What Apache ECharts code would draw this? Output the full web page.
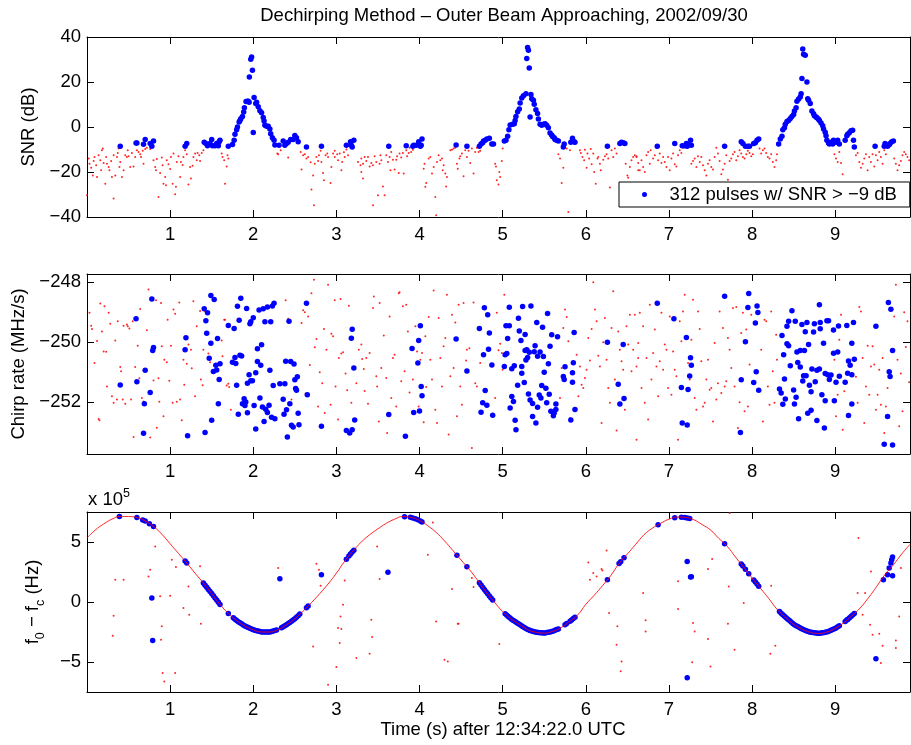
<!DOCTYPE html>
<html>
<head>
<meta charset="utf-8">
<title>Dechirping Method</title>
<script src="https://cdn.jsdelivr.net/npm/echarts@6.0.0/dist/echarts.min.js"></script>
<style>html,body{margin:0;padding:0;background:#fff;}</style>
</head>
<body>
<div id="main" style="width:911px;height:745px;"></div>
<script type="text/javascript">
// ---- data (time in s, SNR in dB, chirp in MHz/s, f0-fc in units of 1e5 Hz) ----
var xTicks = [1, 2, 3, 4, 5, 6, 7, 8, 9];
var snrTicks = [-40, -20, 0, 20, 40];
var chirpTicks = [-252, -250, -248];
var freqTicks = [-5, 0, 5];

var snrBlue = [
  [0.40,-8.6],[0.59,-7.1],[0.60,-7.1],[0.68,-7.7],[0.70,-5.6],[0.76,-7.3],[0.78,-8.6],[0.80,-6.2],
  [1.18,-8.6],[1.20,-7.3],[1.41,-6.8],[1.43,-7.3],[1.45,-8.3],[1.48,-7.3],[1.50,-5.6],[1.51,-8.3],
  [1.54,-8.3],[1.56,-7.3],[1.58,-8.3],[1.59,-6.6],[1.60,-5.9],[1.70,-8.6],[1.75,-7.8],[1.77,-5.9],
  [1.78,-3.2],[1.80,-1.2],[1.81,0.0],[1.83,2.2],[1.84,2.9],[1.85,3.7],[1.87,4.7],[1.885,6.7],
  [1.893,8.6],[1.913,11.3],[1.93,11.5],[1.94,11.5],[1.95,11.0],[1.953,22.2],[1.97,30.1],[1.98,31.1],
  [1.99,25.2],[2.00,-2.4],[2.01,13.1],[2.03,10.4],[2.04,11.0],[2.06,9.0],[2.08,7.2],[2.10,6.3],
  [2.12,4.2],[2.13,2.7],[2.14,0.8],[2.16,0.3],[2.18,0.3],[2.20,-0.9],[2.21,-3.0],[2.23,-4.8],
  [2.25,-5.9],[2.26,-8.0],[2.31,-8.1],[2.36,-6.2],[2.38,-8.1],[2.40,-7.3],[2.42,-6.8],[2.45,-5.6],
  [2.48,-5.6],[2.50,-3.8],[2.52,-4.8],[2.54,-6.5],[2.64,-8.9],[2.82,-8.6],[3.12,-8.1],[3.17,-6.6],
  [3.18,-8.1],[3.19,-8.9],[3.21,-5.9],
  [3.63,-8.6],[3.84,-8.3],[3.92,-8.6],[3.93,-8.1],[3.96,-8.1],[3.99,-6.6],[4.01,-8.6],[4.03,-5.3],
  [4.02,-8.1],[4.44,-8.0],[4.57,-8.6],[4.72,-8.6],[4.74,-7.6],[4.76,-7.0],[4.77,-6.2],[4.79,-5.9],
  [4.81,-5.3],[4.84,-5.0],[4.87,-7.6],[4.89,-7.6],[5.02,-6.2],[5.04,-5.9],[5.06,-4.1],[5.075,-1.2],
  [5.09,0.9],[5.12,1.2],[5.14,1.5],[5.15,2.9],[5.16,4.7],[5.18,6.8],[5.20,8.0],[5.21,10.7],
  [5.23,12.9],[5.25,13.9],[5.28,14.8],[5.29,30.4],[5.30,35.3],[5.31,34.1],[5.32,26.2],[5.33,4.4],
  [5.34,14.5],[5.35,12.6],[5.37,11.9],[5.38,10.1],[5.40,7.7],[5.42,6.0],[5.43,3.6],[5.45,1.2],
  [5.47,0.8],[5.49,1.2],[5.51,1.5],[5.53,0.8],[5.55,-0.3],[5.57,-2.7],[5.59,-3.6],[5.60,-4.2],
  [5.62,-4.8],[5.63,-5.6],[5.65,-5.9],[5.67,-6.2],[5.73,-8.9],[5.74,-7.6],[5.82,-6.8],[5.84,-5.0],
  [5.86,-6.5],[5.87,-6.8],[6.26,-8.6],[6.41,-7.3],[6.43,-6.8],[6.45,-7.0],[6.47,-7.3],
  [6.86,-8.6],[7.07,-7.3],[7.16,-8.3],[7.19,-8.3],[7.21,-7.3],[7.22,-8.6],[7.24,-7.9],[7.26,-5.9],
  [7.27,-8.1],[7.67,-8.6],[7.87,-6.6],[7.89,-7.3],[7.92,-8.6],[7.95,-8.6],[7.97,-8.6],[8.02,-7.3],
  [8.04,-7.0],[8.06,-5.9],[8.08,-5.3],[8.32,-7.6],[8.34,-5.3],[8.36,-4.1],[8.37,-1.2],[8.39,-0.3],
  [8.40,1.2],[8.42,2.4],[8.44,2.9],[8.46,3.8],[8.48,4.7],[8.50,5.6],[8.51,7.1],[8.53,8.6],
  [8.54,11.5],[8.56,12.4],[8.58,13.3],[8.59,14.8],[8.60,21.6],[8.61,34.7],[8.62,32.3],[8.64,31.9],
  [8.66,20.0],[8.67,12.6],[8.68,11.9],[8.70,10.4],[8.72,7.1],[8.74,5.9],[8.75,5.0],[8.77,4.4],
  [8.78,4.1],[8.80,3.5],[8.81,2.9],[8.83,1.8],[8.85,0.6],[8.86,-0.9],[8.88,-2.3],[8.89,-3.9],
  [8.90,-5.9],[8.92,-7.1],[8.93,-7.6],[8.95,-6.8],[8.97,-7.6],[8.98,-5.9],[9.01,-6.8],[9.03,-5.9],
  [9.05,-7.6],[9.12,-5.9],[9.14,-3.9],[9.15,-3.2],[9.17,-2.6],[9.19,-1.7],[9.21,-1.4],[9.22,-5.9],
  [9.23,-8.9],[9.48,-8.6],[9.59,-8.6],[9.60,-7.3],[9.63,-8.6],[9.65,-7.9],[9.66,-7.3],[9.68,-6.6],
  [9.70,-6.2]
];

var snrRed = [
  [0.00,-30.3],[0.02,-14.0],[0.03,-16.3],[0.05,-18.1],[0.07,-21.5],[0.08,-15.1],[0.09,-13.3],[0.11,-17.0],
  [0.12,-22.2],[0.14,-12.6],[0.16,-14.8],[0.17,-19.2],[0.18,-10.3],[0.19,-9.6],[0.20,-16.0],[0.22,-25.2],
  [0.23,-13.3],[0.24,-16.3],[0.26,-17.8],[0.27,-19.2],[0.29,-15.1],[0.30,-22.2],[0.32,-31.8],[0.32,-12.6],
  [0.34,-21.6],[0.36,-13.3],[0.37,-11.5],[0.38,-9.6],[0.39,-17.8],[0.40,-15.5],[0.42,-22.2],[0.44,-19.2],
  [0.46,-12.6],[0.48,-13.3],[0.49,-10.3],[0.50,-13.0],[0.52,-17.8],[0.54,-11.5],[0.56,-17.5],[0.58,-13.3],
  [0.60,-10.3],[0.62,-11.1],[0.64,-12.1],[0.65,-13.3],[0.67,-10.6],[0.68,-16.3],[0.70,-9.8],[0.72,-9.2],
  [0.76,-9.8],[0.80,-14.8],[0.82,-17.8],[0.83,-19.2],[0.84,-14.2],[0.86,-31.1],[0.88,-20.4],[0.90,-13.6],
  [0.91,-17.0],[0.92,-25.2],[0.94,-22.2],[0.95,-25.9],[0.96,-14.8],[0.98,-16.6],[1.00,-18.7],[1.01,-13.3],
  [1.03,-25.2],[1.04,-11.8],[1.06,-29.9],[1.07,-26.6],[1.08,-15.5],[1.10,-13.0],[1.12,-22.2],[1.13,-15.5],
  [1.15,-16.9],[1.16,-13.3],[1.18,-10.3],[1.20,-12.1],[1.22,-25.5],[1.24,-17.8],[1.25,-22.9],[1.27,-17.2],
  [1.28,-13.3],[1.30,-11.8],[1.32,-14.8],[1.33,-11.5],[1.35,-12.6],[1.36,-15.1],[1.38,-11.5],[1.40,-10.3],
  [1.62,-11.8],[1.63,-13.3],[1.65,-14.8],[1.66,-25.2],[1.68,-17.5],[1.69,-12.6],[1.70,-14.0],
  [2.29,-11.8],[2.30,-12.1],[2.33,-10.3],[2.42,-13.6],[2.57,-11.1],[2.58,-18.9],[2.60,-12.6],[2.62,-12.1],
  [2.64,-14.0],[2.66,-13.3],[2.69,-15.7],[2.70,-27.8],[2.72,-21.5],[2.73,-34.8],[2.74,-16.3],[2.76,-13.3],
  [2.78,-15.1],[2.79,-12.6],[2.81,-10.6],[2.82,-15.5],[2.84,-20.4],[2.85,-23.7],[2.87,-12.6],[2.89,-11.8],
  [2.90,-13.3],[2.93,-24.9],[2.94,-17.8],[2.96,-11.8],[2.98,-10.6],[2.98,-13.3],[3.01,-12.1],[3.02,-14.8],
  [3.04,-11.8],[3.06,-19.2],[3.07,-15.5],[3.09,-11.2],[3.10,-13.3],[3.12,-10.0],[3.14,-12.6],[3.26,-15.5],
  [3.29,-17.0],[3.30,-20.0],[3.32,-22.9],[3.34,-13.3],
  [3.30,-14.0],[3.32,-16.3],[3.36,-15.1],[3.38,-13.3],[3.40,-17.5],[3.42,-16.0],[3.44,-34.8],[3.44,-17.0],
  [3.46,-13.0],[3.48,-15.5],[3.50,-30.3],[3.52,-16.3],[3.53,-12.6],[3.54,-14.8],[3.56,-26.4],[3.58,-30.3],
  [3.60,-12.6],[3.62,-15.5],[3.64,-13.3],[3.65,-19.2],[3.66,-11.1],[3.68,-14.5],[3.70,-18.9],[3.72,-14.5],
  [3.73,-13.0],[3.75,-20.4],[3.76,-11.8],[3.78,-13.6],[3.80,-11.5],[3.81,-20.7],[3.84,-10.3],[3.85,-13.0],
  [3.87,-11.5],[3.88,-9.2],[3.90,-11.1],[3.92,-10.1],[4.05,-18.5],[4.06,-16.3],[4.07,-26.6],[4.08,-24.9],
  [4.11,-14.0],[4.13,-13.3],[4.15,-20.7],[4.17,-17.8],[4.19,-31.1],[4.20,-39.2],[4.21,-15.5],[4.23,-12.6],
  [4.25,-14.8],[4.27,-14.0],[4.28,-19.2],[4.29,-17.0],[4.31,-20.7],[4.32,-26.4],[4.33,-22.2],[4.37,-10.3],
  [4.39,-10.1],[4.41,-9.6],[4.43,-9.2],[4.45,-16.3],[4.46,-18.6],[4.48,-14.0],[4.49,-13.0],[4.51,-11.8],
  [4.53,-21.9],[4.55,-10.3],[4.57,-13.3],[4.59,-10.6],[4.61,-16.0],[4.63,-9.6],[4.65,-20.7],[4.67,-11.1],
  [4.69,-9.2],[4.71,-11.1],[4.73,-10.6],[4.91,-16.3],[4.92,-17.5],[4.93,-23.7],[4.95,-25.5],[4.96,-20.0],
  [4.97,-22.2],[4.99,-15.1],[5.00,-9.6],[5.67,-12.1],[5.69,-14.0],[5.71,-24.9],[5.73,-18.1],[5.77,-9.6],
  [5.79,-37.8],[5.81,-10.3],[5.93,-10.3],[5.94,-11.5],[5.96,-13.3],[5.98,-14.8],[5.99,-10.1],[6.01,-18.1],
  [6.02,-11.8],[6.04,-14.0],[6.06,-9.8],[6.07,-16.6],[6.09,-11.8],[6.10,-20.0],[6.12,-25.2],[6.14,-14.0],
  [6.15,-13.3],[6.17,-16.3],[6.18,-19.2],[6.21,-14.5],[6.23,-13.0],[6.25,-12.1],[6.27,-14.0],[6.29,-26.9],
  [6.31,-10.3],[6.33,-13.3],[6.35,-9.6],[6.37,-11.8],[6.48,-16.3],[6.50,-21.5],[6.51,-22.5],[6.53,-17.8],
  [6.55,-14.8],[6.57,-13.3],[6.59,-12.6],[6.61,-13.0],[6.63,-19.2],
  [6.61,-13.3],[6.63,-16.0],[6.65,-19.2],[6.67,-14.8],[6.69,-17.8],[6.71,-20.0],[6.73,-12.6],[6.75,-11.1],
  [6.77,-16.3],[6.78,-10.3],[6.81,-14.0],[6.83,-12.6],[6.85,-9.3],[6.87,-14.8],[6.89,-11.8],[6.91,-16.0],
  [6.93,-13.3],[6.95,-15.5],[6.97,-17.8],[6.99,-13.3],[7.01,-19.2],[7.03,-14.0],[7.05,-11.8],[7.07,-16.6],
  [7.09,-17.5],[7.11,-12.6],[7.13,-10.3],[7.15,-11.5],[7.17,-9.2],[7.27,-16.3],[7.29,-15.1],[7.31,-14.0],
  [7.33,-17.8],[7.35,-13.0],[7.37,-15.5],[7.39,-13.3],[7.41,-17.0],[7.43,-19.2],[7.45,-21.5],[7.47,-16.3],
  [7.49,-14.8],[7.51,-17.8],[7.53,-18.9],[7.55,-13.3],[7.57,-9.2],[7.59,-11.8],[7.61,-15.1],[7.63,-21.0],
  [7.65,-18.9],[7.67,-16.3],[7.69,-12.6],[7.71,-23.4],[7.73,-15.1],[7.75,-14.0],[7.77,-12.1],[7.79,-11.1],
  [7.81,-14.8],[7.83,-13.0],[7.85,-10.3],[7.87,-11.8],[7.89,-13.3],[7.91,-14.0],[7.93,-12.1],[7.95,-10.6],
  [7.97,-11.5],[7.99,-13.0],[8.01,-12.1],[8.09,-9.6],[8.11,-11.8],[8.13,-10.3],[8.15,-9.6],[8.17,-11.5],
  [8.19,-13.3],[8.21,-14.0],[8.23,-12.1],[8.25,-15.5],[8.27,-17.8],[8.29,-14.8],[8.30,-12.1],[8.99,-12.1],
  [9.01,-14.0],[9.03,-15.5],[9.05,-11.1],[9.07,-16.0],[9.09,-21.0],[9.25,-12.6],[9.27,-11.5],[9.29,-15.5],
  [9.31,-18.1],[9.33,-16.3],[9.35,-14.0],[9.37,-12.1],[9.39,-19.2],[9.41,-13.3],[9.43,-15.5],[9.45,-12.1],
  [9.47,-17.5],[9.49,-12.6],[9.51,-14.8],[9.53,-11.1],[9.55,-13.3],[9.57,-16.3],[9.59,-10.3],[9.61,-12.1],
  [9.71,-14.0],[9.73,-16.3],[9.75,-19.2],[9.77,-17.0],[9.79,-15.1],[9.81,-12.6],[9.83,-11.1],[9.85,-12.1],
  [9.87,-13.3],[9.89,-14.8]
];

var chirpBlue = [
  [0.78,-248.56],[0.59,-249.22],[0.40,-251.43],[0.70,-250.94],[0.60,-251.32],[0.76,-251.68],[0.69,-252.06],[0.68,-253.05],
  [0.80,-250.18],[0.79,-250.28],[1.19,-249.85],[1.18,-250.25],[1.21,-253.13],[1.41,-248.88],[1.49,-248.44],[1.53,-248.57],
  [1.45,-249.02],[1.43,-249.28],[1.44,-249.70],[1.49,-250.04],[1.57,-249.88],[1.47,-250.54],[1.55,-250.77],[1.60,-250.72],
  [1.56,-250.93],[1.52,-250.98],[1.59,-251.25],[1.58,-252.06],[1.50,-252.61],[1.42,-253.02],[1.85,-248.53],[1.81,-248.80],
  [1.92,-248.87],[1.83,-249.27],[1.70,-249.44],[1.77,-249.54],[2.00,-249.18],[1.97,-249.32],[1.96,-249.38],[2.07,-248.92],
  [2.12,-248.88],[2.17,-248.82],[2.23,-248.79],[2.25,-248.70],[2.14,-249.32],[2.21,-249.32],[2.10,-250.09],[2.05,-250.22],
  [1.78,-250.51],[1.84,-250.44],[1.86,-250.46],[1.75,-250.67],[1.79,-250.71],[2.05,-250.65],[2.09,-250.77],[2.03,-251.02],
  [1.95,-251.09],[1.97,-251.29],[1.99,-251.29],[1.93,-251.37],[1.80,-251.44],[2.24,-251.45],[2.32,-251.39],[2.38,-251.39],
  [2.20,-250.94],[2.39,-250.64],[2.45,-250.65],[2.49,-250.73],[2.53,-251.16],[2.50,-251.26],[2.51,-251.55],[2.52,-251.61],
  [2.64,-248.70],[2.43,-249.30],[2.65,-251.76],[2.08,-251.87],[2.36,-251.91],[1.89,-251.89],[1.91,-252.00],[1.87,-252.06],
  [1.90,-252.12],[2.01,-252.12],[2.11,-252.17],[2.15,-252.24],[2.19,-252.11],[2.17,-252.35],[1.82,-252.41],[1.93,-252.36],
  [2.22,-252.51],[2.26,-252.56],[2.40,-252.26],[2.44,-252.06],[2.37,-252.41],[2.54,-252.38],[2.13,-252.65],[2.03,-252.90],
  [2.46,-252.78],[2.48,-252.84],[2.55,-252.76],[2.41,-253.17],[2.82,-252.81],[3.19,-249.57],[3.18,-249.87],[3.21,-250.86],
  [3.22,-252.60],[3.12,-252.95],[3.16,-253.04],[3.19,-252.93],
  [3.63,-252.42],[3.83,-253.15],[3.93,-252.35],[4.00,-252.30],[4.02,-251.48],[4.03,-251.79],[3.98,-250.70],[3.91,-250.21],
  [3.99,-249.94],[4.01,-249.45],[4.44,-249.89],[4.57,-250.96],[4.72,-249.54],[4.78,-248.85],[4.82,-249.08],[4.84,-249.69],
  [4.83,-250.24],[4.77,-250.42],[4.87,-250.76],[4.79,-251.62],[4.76,-252.03],[4.81,-252.11],[4.74,-252.34],[4.88,-252.44],
  [5.08,-248.83],[5.24,-248.81],[5.34,-248.79],[5.19,-249.20],[5.04,-249.45],[5.08,-249.45],[5.06,-249.88],[5.20,-249.63],
  [5.27,-249.74],[5.22,-249.94],[5.41,-249.34],[5.48,-249.50],[5.54,-249.04],[5.59,-249.75],[5.66,-249.82],[5.39,-250.12],
  [5.29,-250.25],[5.27,-250.28],[5.32,-250.34],[5.38,-250.32],[5.45,-250.33],[5.30,-250.51],[5.28,-250.60],[5.42,-250.47],
  [5.49,-250.48],[5.05,-250.38],[5.03,-250.42],[5.02,-250.81],[5.11,-250.89],[5.14,-250.79],[5.23,-250.81],[5.55,-250.72],
  [5.50,-251.01],[5.23,-251.04],[5.26,-251.35],[5.18,-251.44],[5.47,-251.45],[5.52,-251.54],[5.31,-251.73],[5.44,-251.77],
  [5.46,-251.87],[5.56,-251.74],[5.11,-251.82],[5.13,-251.98],[5.33,-251.93],[5.36,-252.05],[5.42,-252.18],[5.09,-252.20],
  [5.53,-252.03],[5.64,-252.07],[5.64,-252.25],[5.58,-252.31],[5.61,-252.35],[5.62,-252.37],[5.61,-252.46],[5.36,-252.49],
  [5.40,-252.70],[5.15,-252.61],[5.16,-252.93],[5.75,-250.82],[5.85,-250.69],[5.73,-251.15],[5.74,-251.25],[5.84,-251.02],
  [5.84,-251.34],[5.86,-249.68],[5.57,-250.14],[5.87,-252.25],[5.82,-252.60],[6.26,-250.00],[6.45,-250.08],[6.39,-251.41],
  [6.46,-251.88],[6.41,-252.07],
  [6.86,-248.70],[7.67,-248.46],[7.96,-248.37],[7.06,-249.22],[7.95,-248.84],[8.06,-248.79],[8.07,-249.01],[8.04,-249.36],
  [7.92,-249.99],[7.21,-249.84],[7.26,-250.52],[7.27,-250.77],[7.25,-251.13],[7.15,-251.52],[7.23,-251.58],[7.87,-251.26],
  [8.05,-250.99],[8.02,-251.35],[8.08,-251.61],[7.16,-252.70],[7.22,-252.77],[7.86,-253.02],[8.81,-248.75],[9.64,-248.67],
  [9.67,-248.90],[9.49,-249.47],[8.48,-248.95],[8.44,-249.30],[8.52,-249.30],[8.42,-249.47],[8.60,-249.41],[8.66,-249.34],
  [8.75,-249.38],[8.82,-249.34],[8.90,-249.28],[8.92,-249.28],[9.04,-249.46],[9.14,-249.44],[9.22,-249.34],[8.64,-249.65],
  [8.74,-249.66],[8.82,-249.55],[8.98,-249.59],[8.36,-249.78],[8.42,-250.05],[8.44,-250.12],[8.68,-250.08],[8.86,-250.04],
  [9.20,-250.04],[8.58,-250.28],[8.54,-250.33],[8.63,-250.28],[8.98,-250.37],[9.03,-250.33],[8.38,-250.42],[8.46,-250.79],
  [8.55,-250.68],[8.58,-250.83],[8.72,-250.90],[8.78,-250.94],[8.81,-250.90],[9.16,-250.63],[9.23,-250.57],[9.18,-250.77],
  [8.62,-251.12],[8.65,-251.12],[8.61,-251.30],[8.76,-251.32],[8.69,-251.44],[8.71,-251.66],[8.88,-251.05],[8.91,-251.09],
  [8.95,-251.10],[8.93,-251.25],[9.05,-251.14],[9.01,-251.34],[9.12,-251.34],[9.15,-251.04],[9.20,-251.09],[8.39,-251.23],
  [8.50,-251.60],[8.33,-251.57],[8.35,-251.70],[8.40,-251.90],[8.37,-252.08],[8.53,-251.84],[8.51,-252.07],[8.84,-251.76],
  [8.88,-251.96],[8.99,-251.96],[9.20,-252.07],[9.16,-252.45],[8.71,-252.28],[8.67,-252.38],[8.78,-252.62],[8.87,-252.87],
  [8.56,-252.56],[9.69,-250.28],[9.65,-250.99],[9.66,-251.15],[9.63,-252.49],[9.59,-253.41],[9.69,-253.44]
];

var chirpRed = [
  [0.03,-249.02],[0.05,-249.45],[0.06,-249.56],[0.09,-250.70],[0.12,-249.96],[0.14,-252.57],[0.15,-252.61],[0.16,-248.71],
  [0.18,-249.64],[0.20,-250.31],[0.21,-248.80],[0.23,-250.32],[0.24,-251.48],[0.26,-249.02],[0.28,-249.38],[0.30,-251.81],
  [0.32,-252.03],[0.34,-249.94],[0.36,-251.92],[0.37,-249.30],[0.40,-250.83],[0.41,-250.97],[0.43,-251.92],[0.44,-249.45],
  [0.46,-252.06],[0.48,-249.41],[0.49,-249.47],[0.51,-249.54],[0.53,-251.92],[0.55,-249.30],[0.56,-253.17],[0.58,-250.83],
  [0.61,-250.12],[0.63,-251.21],[0.64,-248.89],[0.66,-251.87],[0.68,-251.98],[0.72,-249.60],[0.74,-248.24],[0.76,-253.19],
  [0.80,-251.28],[0.83,-248.60],[0.84,-252.86],[0.86,-251.21],[0.87,-251.99],[0.89,-248.69],[0.90,-250.14],[0.92,-252.48],
  [0.93,-250.59],[0.96,-250.67],[0.97,-249.25],[0.99,-251.29],[1.01,-250.12],[1.03,-252.03],[1.04,-248.91],[1.06,-249.05],
  [1.08,-251.99],[1.11,-248.67],[1.12,-251.92],[1.14,-252.61],[1.16,-250.59],[1.17,-251.42],[1.20,-250.72],[1.22,-250.08],
  [1.25,-250.25],[1.26,-250.87],[1.28,-248.63],[1.30,-251.81],[1.32,-249.47],[1.36,-248.96],[1.37,-251.25],[1.39,-251.44],
  [1.40,-250.25],[1.42,-248.97],[1.46,-250.38],[1.48,-250.67],[1.62,-249.94],[1.63,-250.47],[1.65,-249.25],[1.66,-249.25],
  [1.68,-251.45],[1.70,-251.39],[1.71,-251.50],[1.73,-252.26],[2.39,-248.60],[2.42,-249.22],[2.46,-251.92],[2.58,-249.36],
  [2.60,-248.93],[2.62,-249.00],[2.63,-251.72],[2.66,-249.14],[2.68,-250.76],[2.70,-248.36],[2.73,-247.91],[2.74,-250.17],
  [2.76,-249.89],[2.78,-252.15],[2.80,-251.01],[2.83,-251.37],[2.85,-249.56],[2.86,-252.37],[2.88,-250.25],[2.90,-248.08],
  [2.93,-252.09],[2.94,-249.72],[2.96,-249.80],[2.98,-248.60],[2.99,-251.48],[3.02,-252.59],[3.03,-250.53],[3.05,-248.56],
  [3.06,-250.38],[3.08,-250.34],[3.11,-251.05],[3.13,-251.61],[3.15,-248.78],[3.18,-252.03],[3.24,-251.37],[3.27,-250.25],
  [3.30,-250.08],[3.31,-250.56],[3.33,-250.90],[3.34,-251.63],
  [3.36,-250.53],[3.38,-252.06],[3.40,-250.36],[3.44,-248.86],[3.45,-248.47],[3.48,-251.14],[3.49,-251.48],[3.51,-252.65],
  [3.52,-248.69],[3.54,-250.86],[3.57,-249.78],[3.60,-251.20],[3.61,-253.04],[3.64,-249.14],[3.66,-251.87],[3.68,-250.53],
  [3.70,-250.42],[3.72,-252.15],[3.75,-248.36],[3.76,-248.33],[3.78,-251.31],[3.80,-248.80],[3.82,-250.97],[3.84,-248.75],
  [3.86,-249.64],[3.88,-251.68],[3.92,-251.25],[3.95,-249.47],[3.97,-250.31],[3.99,-252.15],[4.01,-250.59],[4.03,-250.36],
  [4.05,-252.68],[4.07,-249.80],[4.08,-251.50],[4.11,-249.16],[4.13,-250.59],[4.15,-251.25],[4.17,-248.27],[4.19,-252.26],
  [4.21,-252.70],[4.23,-249.19],[4.25,-250.53],[4.27,-251.48],[4.29,-250.14],[4.31,-249.86],[4.33,-248.41],[4.35,-253.09],
  [4.37,-251.14],[4.39,-249.08],[4.41,-250.86],[4.43,-249.34],[4.45,-252.48],[4.47,-248.75],[4.49,-251.48],[4.51,-252.09],
  [4.53,-248.69],[4.56,-250.61],[4.57,-250.25],[4.60,-250.20],[4.63,-253.54],[4.65,-248.67],[4.67,-251.37],[4.69,-251.48],
  [4.71,-249.53],[4.73,-250.70],[4.91,-251.87],[4.93,-249.02],[4.95,-250.27],[4.97,-250.05],[4.99,-250.36],[5.00,-250.92],
  [5.02,-248.41],[5.69,-251.87],[5.71,-250.86],[5.73,-249.53],[5.75,-248.91],[5.77,-249.16],[5.79,-249.97],[5.81,-252.54],
  [5.89,-250.42],[5.91,-251.81],[5.93,-250.81],[5.95,-251.42],[5.97,-251.53],[5.99,-251.20],[6.01,-250.92],[6.03,-249.86],
  [6.05,-250.61],[6.07,-249.56],[6.09,-248.00],[6.11,-248.91],[6.13,-249.30],[6.15,-250.45],[6.17,-250.81],[6.19,-252.70],
  [6.21,-250.00],[6.23,-249.19],[6.25,-250.59],[6.27,-251.53],[6.29,-252.03],[6.31,-249.53],[6.33,-248.30],[6.35,-251.25],
  [6.37,-252.95],[6.39,-249.64],[6.41,-250.25],[6.43,-250.64],[6.45,-250.92],[6.47,-252.26],[6.49,-249.47],[6.51,-250.08],
  [6.53,-249.08],[6.55,-250.97],[6.57,-250.25],[6.59,-249.08],[6.61,-253.26],[6.63,-250.53],
  [6.61,-250.81],[6.63,-250.03],[6.65,-249.02],[6.67,-251.53],[6.69,-249.47],[6.71,-252.03],[6.73,-250.53],[6.75,-252.59],
  [6.77,-248.75],[6.79,-251.25],[6.81,-250.36],[6.83,-249.58],[6.85,-250.81],[6.87,-251.81],[6.89,-250.64],[6.91,-249.02],
  [6.93,-250.92],[6.95,-250.08],[6.97,-250.25],[6.99,-251.53],[7.01,-249.14],[7.03,-251.76],[7.05,-250.31],[7.07,-250.92],
  [7.09,-251.14],[7.11,-253.26],[7.13,-249.30],[7.15,-249.97],[7.17,-248.97],[7.19,-248.41],[7.23,-250.70],[7.25,-251.25],
  [7.27,-249.92],[7.29,-248.58],[7.31,-251.87],[7.33,-252.26],[7.35,-248.97],[7.37,-249.56],[7.39,-250.64],[7.41,-252.15],
  [7.43,-252.03],[7.45,-251.25],[7.47,-250.59],[7.49,-251.59],[7.51,-251.53],[7.53,-252.65],[7.55,-250.03],[7.57,-251.92],
  [7.59,-251.37],[7.61,-248.97],[7.63,-251.70],[7.65,-249.53],[7.67,-251.48],[7.69,-251.31],[7.71,-249.86],[7.73,-250.25],
  [7.75,-250.86],[7.77,-248.86],[7.79,-251.48],[7.81,-248.82],[7.83,-252.87],[7.85,-252.01],[7.87,-249.69],[7.89,-249.02],
  [7.91,-252.31],[7.93,-249.58],[7.95,-252.15],[7.97,-250.75],[7.99,-249.08],[8.11,-250.25],[8.13,-252.65],[8.15,-249.25],
  [8.17,-249.30],[8.19,-251.48],[8.21,-252.09],[8.23,-248.97],[8.25,-250.97],[8.27,-252.03],[8.29,-249.75],[8.30,-250.59],
  [8.99,-250.59],[9.01,-252.48],[9.03,-251.76],[9.05,-249.92],[9.07,-249.08],[9.09,-252.93],[9.11,-251.64],[9.25,-251.16],
  [9.27,-252.03],[9.29,-248.82],[9.31,-248.97],[9.33,-250.53],[9.35,-252.70],[9.37,-251.48],[9.39,-250.12],[9.41,-251.76],
  [9.43,-250.81],[9.45,-250.14],[9.47,-250.75],[9.49,-252.26],[9.51,-251.76],[9.53,-250.92],[9.55,-252.09],[9.57,-250.53],
  [9.59,-253.04],[9.61,-252.15],[9.63,-251.53],[9.71,-249.14],[9.73,-248.08],[9.75,-250.59],[9.77,-252.81],[9.79,-251.05],
  [9.81,-252.31],[9.83,-249.00],[9.85,-250.16],[9.87,-249.30],[9.89,-251.34]
];

// dense carrier-offset track of all pulses (units of 1e5 Hz)
var freqCurve = [
  [0.0,5.33],[0.1,6.0],[0.2,6.5],[0.3,6.9],[0.4,7.13],[0.5,7.12],[0.6,7.05],[0.7,6.75],[0.8,6.3],[0.9,5.65],
  [1.0,4.85],[1.1,4.05],[1.2,3.25],[1.3,2.4],[1.4,1.58],[1.5,0.7],[1.6,-0.2],[1.7,-0.95],[1.8,-1.55],[1.9,-2.0],
  [2.0,-2.31],[2.1,-2.5],[2.2,-2.5],[2.3,-2.3],[2.4,-1.9],[2.5,-1.4],[2.6,-0.75],[2.7,-0.05],[2.8,0.7],[2.9,1.5],
  [3.0,2.4],[3.1,3.4],[3.2,4.25],[3.3,5.0],[3.4,5.6],[3.5,6.1],[3.6,6.55],[3.7,6.9],[3.8,7.12],[3.9,7.05],
  [4.0,6.8],[4.1,6.35],[4.2,5.8],[4.3,5.1],[4.4,4.3],[4.5,3.5],[4.6,2.7],[4.7,1.8],[4.8,0.85],[4.9,0.0],
  [5.0,-0.8],[5.1,-1.4],[5.2,-1.85],[5.3,-2.3],[5.4,-2.52],[5.5,-2.59],[5.6,-2.45],[5.7,-2.15],[5.8,-1.65],[5.9,-1.1],
  [6.0,-0.2],[6.1,0.55],[6.2,1.35],[6.3,2.2],[6.4,3.2],[6.5,4.0],[6.6,4.8],[6.7,5.6],[6.8,6.15],[6.9,6.55],
  [7.0,6.9],[7.1,7.08],[7.2,7.05],[7.3,6.85],[7.4,6.45],[7.5,6.0],[7.6,5.3],[7.7,4.65],[7.8,3.75],[7.9,2.9],
  [8.0,2.0],[8.1,1.15],[8.2,0.3],[8.3,-0.6],[8.4,-1.25],[8.5,-1.85],[8.6,-2.25],[8.7,-2.52],[8.8,-2.62],[8.9,-2.5],
  [9.0,-2.2],[9.1,-1.75],[9.2,-1.15],[9.3,-0.5],[9.4,0.35],[9.5,1.3],[9.6,2.3],[9.7,3.1],[9.8,4.0],[9.9,4.8]
];

var freqRed = [
  [0.34,1.86],[0.44,1.86],[0.32,-1.14],[0.31,-2.81],[0.76,2.69],[0.74,2.13],[0.82,4.63],[0.88,0.47],
  [0.90,-2.03],[0.89,-3.14],[0.91,-5.92],[0.93,-6.62],[1.00,0.52],[1.02,3.52],[1.07,2.91],[1.06,-5.92],
  [1.16,-0.50],[1.22,1.30],[1.23,-1.06],[1.37,-1.81],[1.36,2.97],[2.30,2.83],[2.72,-3.70],[2.76,3.19],
  [2.79,2.69],[2.81,1.36],[2.90,-6.89],[3.00,-5.42],[3.02,-2.17],[3.04,-3.42],[3.05,-1.20],[3.06,-2.25],
  [3.08,-0.23],[3.10,1.80],[3.24,-4.67],[3.42,-1.48],[3.40,-4.31],[3.43,-2.92],[3.49,4.63],[3.52,1.91],
  [4.16,6.63],[4.10,3.94],[4.20,-1.62],[4.30,-4.81],[4.34,-4.95],[4.39,1.08],[4.46,-1.81],
  [4.47,-1.81],[4.63,1.99],[4.65,1.25],[4.96,-3.51],[6.03,3.30],[6.05,1.86],[6.09,2.41],[6.13,2.13],
  [6.19,2.75],[6.20,2.63],[6.25,4.30],[6.28,-0.92],[6.37,-3.56],[6.38,-2.03],[6.43,-4.95],[6.42,-5.78],
  [6.69,0.75],[6.72,-1.53],[6.72,-2.45],[7.11,1.72],[7.11,-0.59],[7.29,-1.75],[7.31,-2.45],[7.28,-5.03],
  [7.47,2.75],[7.47,-3.09],[7.50,-5.37],[7.52,3.58],[7.71,-1.81],[7.72,1.30],[7.73,7.41],[7.79,-3.98],
  [7.90,-0.09],[8.23,1.36],[8.22,-4.31],[8.28,-3.64],[9.27,0.75],[9.28,5.33],[9.36,0.75],[9.42,-1.89],
  [9.43,2.55],[9.45,-2.73],[9.53,-2.64],[9.55,-5.09],[9.57,-3.64],[9.73,-3.20],[9.73,-3.84],[9.77,-1.20],
  [9.79,2.83],[9.33,-1.06]
];

var freqBlue = [
  [0.39,7.12],[0.60,7.05],[0.67,6.84],[0.70,6.75],[0.75,6.53],[0.80,6.3],[1.18,3.41],[1.20,3.25],
  [1.40,1.58],[1.42,1.40],[1.44,1.23],[1.46,1.05],[1.48,0.88],[1.50,0.70],[1.52,0.52],[1.54,0.34],
  [1.56,0.16],[1.58,-0.02],[1.60,-0.2],[1.70,-0.95],[1.76,-1.31],[1.78,-1.43],[1.80,-1.55],[1.82,-1.64],
  [1.84,-1.73],[1.86,-1.82],[1.88,-1.91],[1.90,-2.0],[1.92,-2.06],[1.94,-2.12],[1.96,-2.19],[1.98,-2.25],
  [2.00,-2.31],[2.02,-2.35],[2.04,-2.39],[2.06,-2.42],[2.08,-2.46],[2.10,-2.5],[2.12,-2.5],[2.14,-2.5],
  [2.16,-2.5],[2.18,-2.5],[2.20,-2.5],[2.22,-2.46],[2.24,-2.42],[2.26,-2.38],[2.28,-2.34],[2.34,-2.14],
  [2.36,-2.06],[2.38,-1.98],[2.40,-1.9],[2.42,-1.8],[2.44,-1.7],[2.46,-1.6],[2.48,-1.5],[2.50,-1.4],
  [2.52,-1.27],[2.54,-1.14],[2.56,-1.01],[2.64,-0.47],[2.66,-0.33],[3.12,3.57],[3.15,3.83],[3.17,4.0],
  [3.19,4.17],[3.21,4.32],[3.82,7.11],[3.89,7.06],[3.92,7.0],[3.95,6.93],[3.98,6.85],[4.01,6.76],
  [4.03,6.67],[4.45,3.9],[4.57,2.94],[4.72,1.61],[4.74,1.42],[4.76,1.23],[4.78,1.04],[4.80,0.85],
  [4.82,0.68],[4.84,0.51],[4.86,0.34],[4.88,0.17],[5.03,-0.98],[5.05,-1.1],[5.07,-1.22],[5.09,-1.34],
  [5.11,-1.45],[5.13,-1.54],[5.15,-1.63],[5.17,-1.72],[5.19,-1.81],[5.21,-1.90],[5.23,-1.99],[5.25,-2.08],
  [5.27,-2.17],[5.29,-2.26],[5.31,-2.32],[5.33,-2.37],[5.35,-2.41],[5.37,-2.45],[5.39,-2.5],[5.41,-2.53],
  [5.43,-2.54],[5.45,-2.56],[5.47,-2.57],[5.49,-2.59],[5.51,-2.58],[5.53,-2.55],[5.55,-2.52],[5.57,-2.49],
  [5.59,-2.46],[5.61,-2.42],[5.63,-2.36],[5.65,-2.3],[5.67,-2.24],[5.75,-1.9],[5.77,-1.8],[5.81,-1.6],
  [5.83,-1.49],[5.85,-1.38],[5.87,-1.27],[6.26,1.86],[6.40,3.2],[6.42,3.36],[6.46,3.68],[6.87,6.43],
  [7.07,7.03],[7.15,7.07],[7.19,7.05],[7.22,7.01],[7.25,6.95],[7.67,4.85],[7.87,3.16],[7.89,2.99],
  [7.92,2.72],[7.96,2.36],[8.02,1.83],[8.04,1.66],[8.06,1.49],[8.08,1.32],[8.33,-0.8],[8.35,-0.93],
  [8.37,-1.06],[8.39,-1.19],[8.41,-1.31],[8.43,-1.43],[8.45,-1.55],[8.47,-1.67],[8.49,-1.79],[8.51,-1.89],
  [8.53,-1.97],[8.55,-2.05],[8.57,-2.13],[8.59,-2.21],[8.61,-2.28],[8.63,-2.33],[8.65,-2.39],[8.67,-2.44],
  [8.69,-2.49],[8.71,-2.53],[8.73,-2.55],[8.75,-2.57],[8.77,-2.59],[8.79,-2.61],[8.81,-2.61],[8.83,-2.58],
  [8.85,-2.56],[8.87,-2.54],[8.89,-2.51],[8.91,-2.47],[8.93,-2.41],[8.95,-2.35],[8.97,-2.29],[8.99,-2.23],
  [9.01,-2.16],[9.03,-2.07],[9.05,-1.98],[9.12,-1.63],[9.14,-1.51],[9.15,-1.45],[9.17,-1.33],[9.19,-1.21],
  [9.21,-1.09],[9.23,-0.96],
  [0.78,0.33],[0.79,-3.2],[2.32,1.94],[2.82,2.27],[3.62,2.47],[7.22,3.38],[7.26,2.08],[7.27,2.1],
  [7.22,-6.31],[9.49,-4.73],[9.58,1.86],[9.63,2.27],[9.69,2.19],[9.65,2.83],[9.67,3.25],[9.68,3.52],[9.69,3.75]
];

var LEGEND_NAME = '312 pulses w/ SNR > \u22129 dB';
var FONT = '"Liberation Sans", Arial, Helvetica, sans-serif';
var FS = 18.5;

function minusFmt(v) { return String(v).replace('-', '\u2212'); }

function xPair(gi) {
  var base = {
    gridIndex: gi, type: 'value', min: 0, max: 9.9,
    axisLine: { onZero: false, lineStyle: { color: '#000', width: 1 } },
    axisTick: { inside: true, length: 7, customValues: xTicks, lineStyle: { color: '#000' } },
    splitLine: { show: false }
  };
  var bottom = Object.assign({}, base, {
    position: 'bottom',
    axisLabel: { customValues: xTicks, margin: 8, color: '#000', fontSize: FS, fontFamily: FONT }
  });
  var top = Object.assign({}, base, { position: 'top', axisLabel: { show: false } });
  return [bottom, top];
}

function yPair(gi, mn, mx, ticks, name, gap, rich) {
  var base = {
    gridIndex: gi, type: 'value', min: mn, max: mx,
    axisLine: { onZero: false, lineStyle: { color: '#000', width: 1 } },
    axisTick: { inside: true, length: 7, customValues: ticks, lineStyle: { color: '#000' } },
    splitLine: { show: false }
  };
  var left = Object.assign({}, base, {
    position: 'left',
    name: name, nameLocation: 'middle', nameRotate: 90, nameGap: gap,
    nameTextStyle: { color: '#000', fontSize: FS, fontFamily: FONT, rich: rich },
    axisLabel: { customValues: ticks, margin: 6, color: '#000', fontSize: FS, fontFamily: FONT, formatter: minusFmt }
  });
  var right = Object.assign({}, base, { position: 'right', axisLabel: { show: false } });
  return [left, right];
}

var myChart = echarts.init(document.getElementById('main'));

var option = {
  animation: false,
  backgroundColor: '#fff',
  grid: [
    { left: 87, top: 37, width: 823, height: 180 },
    { left: 87, top: 274, width: 823, height: 180 },
    { left: 87, top: 512, width: 823, height: 180 }
  ],
  xAxis: [].concat(xPair(0), xPair(1), xPair(2)),
  yAxis: [].concat(
    yPair(0, -40, 40, snrTicks, 'SNR (dB)', 45),
    yPair(1, -253.74, -247.72, chirpTicks, 'Chirp rate (MHz/s)', 56),
    yPair(2, -7.5, 7.5, freqTicks, '{a|f}{s|0}{a| \u2212 f}{s|c}{a| (Hz)}', 40, {
      a: { fontSize: FS, fontFamily: FONT, color: '#000', lineHeight: 24, verticalAlign: 'top' },
      s: { fontSize: 12.5, fontFamily: FONT, color: '#000', verticalAlign: 'bottom' }
    })
  ),
  legend: {
    data: [LEGEND_NAME],
    left: 619, top: 182,
    padding: [3, 13, 3, 23],
    itemWidth: 40, itemHeight: 5, icon: 'circle',
    borderColor: '#000', borderWidth: 1, borderRadius: 0,
    backgroundColor: '#fff',
    selectedMode: false,
    textStyle: { fontSize: FS, color: '#000', fontFamily: FONT }
  },
  graphic: [
    { type: 'text', x: 504, y: 16, style: {
      text: 'Dechirping Method \u2013 Outer Beam Approaching, 2002/09/30',
      font: FS + 'px ' + FONT, fill: '#000', textAlign: 'center', textVerticalAlign: 'middle' } },
    { type: 'text', x: 503, y: 730, style: {
      text: 'Time (s) after 12:34:22.0 UTC',
      font: FS + 'px ' + FONT, fill: '#000', textAlign: 'center', textVerticalAlign: 'middle' } },
    { type: 'text', x: 88, y: 498, style: {
      text: '{a|x 10}{b|5}', textVerticalAlign: 'middle',
      rich: {
        a: { fontSize: FS, fontFamily: FONT, fill: '#000', lineHeight: 22, verticalAlign: 'bottom' },
        b: { fontSize: 12.5, fontFamily: FONT, fill: '#000', verticalAlign: 'top' }
      } } }
  ],
  series: [
    { type: 'scatter', xAxisIndex: 0, yAxisIndex: 0, data: snrRed, symbolSize: 2, silent: true,
      itemStyle: { color: '#ff0000', opacity: 0.85 } },
    { type: 'scatter', name: LEGEND_NAME, xAxisIndex: 0, yAxisIndex: 0, data: snrBlue, symbolSize: 5.5, silent: true,
      itemStyle: { color: '#0000ff', opacity: 1 } },
    { type: 'scatter', xAxisIndex: 2, yAxisIndex: 2, data: chirpRed, symbolSize: 2, silent: true,
      itemStyle: { color: '#ff0000', opacity: 0.85 } },
    { type: 'scatter', xAxisIndex: 2, yAxisIndex: 2, data: chirpBlue, symbolSize: 5.5, silent: true,
      itemStyle: { color: '#0000ff', opacity: 1 } },
    { type: 'line', xAxisIndex: 4, yAxisIndex: 4, data: freqCurve, showSymbol: false, silent: true,
      smooth: true, lineStyle: { color: '#ff0000', width: 1, opacity: 0.85 } },
    { type: 'scatter', xAxisIndex: 4, yAxisIndex: 4, data: freqRed, symbolSize: 2, silent: true,
      itemStyle: { color: '#ff0000', opacity: 0.85 } },
    { type: 'scatter', xAxisIndex: 4, yAxisIndex: 4, data: freqBlue, symbolSize: 5.5, silent: true,
      itemStyle: { color: '#0000ff', opacity: 1 } }
  ]
};

myChart.setOption(option);
</script>
</body>
</html>
